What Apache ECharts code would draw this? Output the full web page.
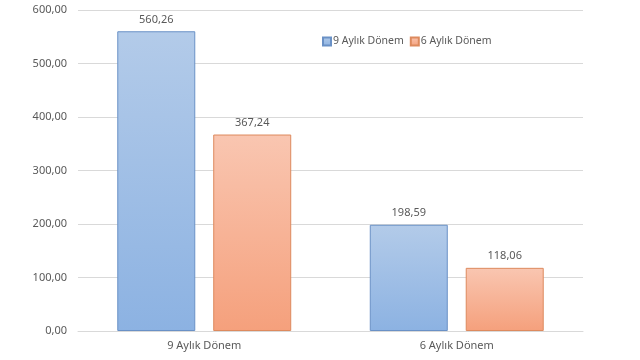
<!DOCTYPE html>
<html>
<head>
<meta charset="utf-8">
<script src="https://cdn.jsdelivr.net/npm/echarts@6/dist/echarts.min.js"></script>
<style>html,body{margin:0;padding:0;background:#fff}#c{width:640px;height:360px}</style>
</head>
<body>
<div id="c"></div>
<script>
var categories = ['9 Aylık Dönem', '6 Aylık Dönem'];
var seriesNames = ['9 Aylık Dönem', '6 Aylık Dönem'];
var values9 = [560.26, 198.59];
var values6 = [367.24, 118.06];
var yTicks = [0, 100, 200, 300, 400, 500, 600];

function fmt(v) { return Number(v).toFixed(2).replace('.', ','); }
var font = 'Noto Sans';
var chart = echarts.init(document.getElementById('c'));
chart.setOption({
  animation: false,
  backgroundColor: '#fff',
  grid: { left: 78, right: 57, top: 10, bottom: 29, containLabel: false },
  legend: {
    left: 317, top: 31, itemWidth: 8, itemHeight: 8, itemGap: 6,
    icon: 'rect',
    textStyle: { color: '#595959', fontSize: 10.5, fontFamily: font, padding: [0, 0, 0, -3] },
    data: seriesNames
  },
  xAxis: {
    type: 'category', data: categories,
    axisLine: { lineStyle: { color: '#d9d9d9' } },
    axisTick: { show: false },
    axisLabel: { color: '#595959', fontSize: 11, fontFamily: font, margin: 9 }
  },
  yAxis: {
    type: 'value', min: yTicks[0], max: yTicks[yTicks.length - 1], interval: 100,
    axisLine: { show: false }, axisTick: { show: false },
    splitLine: { lineStyle: { color: '#d9d9d9' } },
    axisLabel: { color: '#595959', fontSize: 11, fontFamily: font, margin: 11, formatter: fmt }
  },
  series: [
    {
      name: seriesNames[0], type: 'bar', data: values9, barWidth: 78, barGap: '23%',
      itemStyle: {
        color: new echarts.graphic.LinearGradient(0, 0, 0, 1, [
          { offset: 0, color: '#b3cbe9' }, { offset: 1, color: '#8cb2e2' }]),
        borderColor: '#6a91c6', borderWidth: 1
      },
      label: { show: true, position: 'top', distance: 6, color: '#595959', fontSize: 11, fontFamily: font, formatter: function (p) { return fmt(p.value); } }
    },
    {
      name: seriesNames[1], type: 'bar', data: values6, barWidth: 78,
      itemStyle: {
        color: new echarts.graphic.LinearGradient(0, 0, 0, 1, [
          { offset: 0, color: '#f9c6b1' }, { offset: 1, color: '#f5a07c' }]),
        borderColor: '#dd8a5e', borderWidth: 1
      },
      label: { show: true, position: 'top', distance: 6, color: '#595959', fontSize: 11, fontFamily: font, formatter: function (p) { return fmt(p.value); } }
    }
  ]
});
</script>
</body>
</html>
